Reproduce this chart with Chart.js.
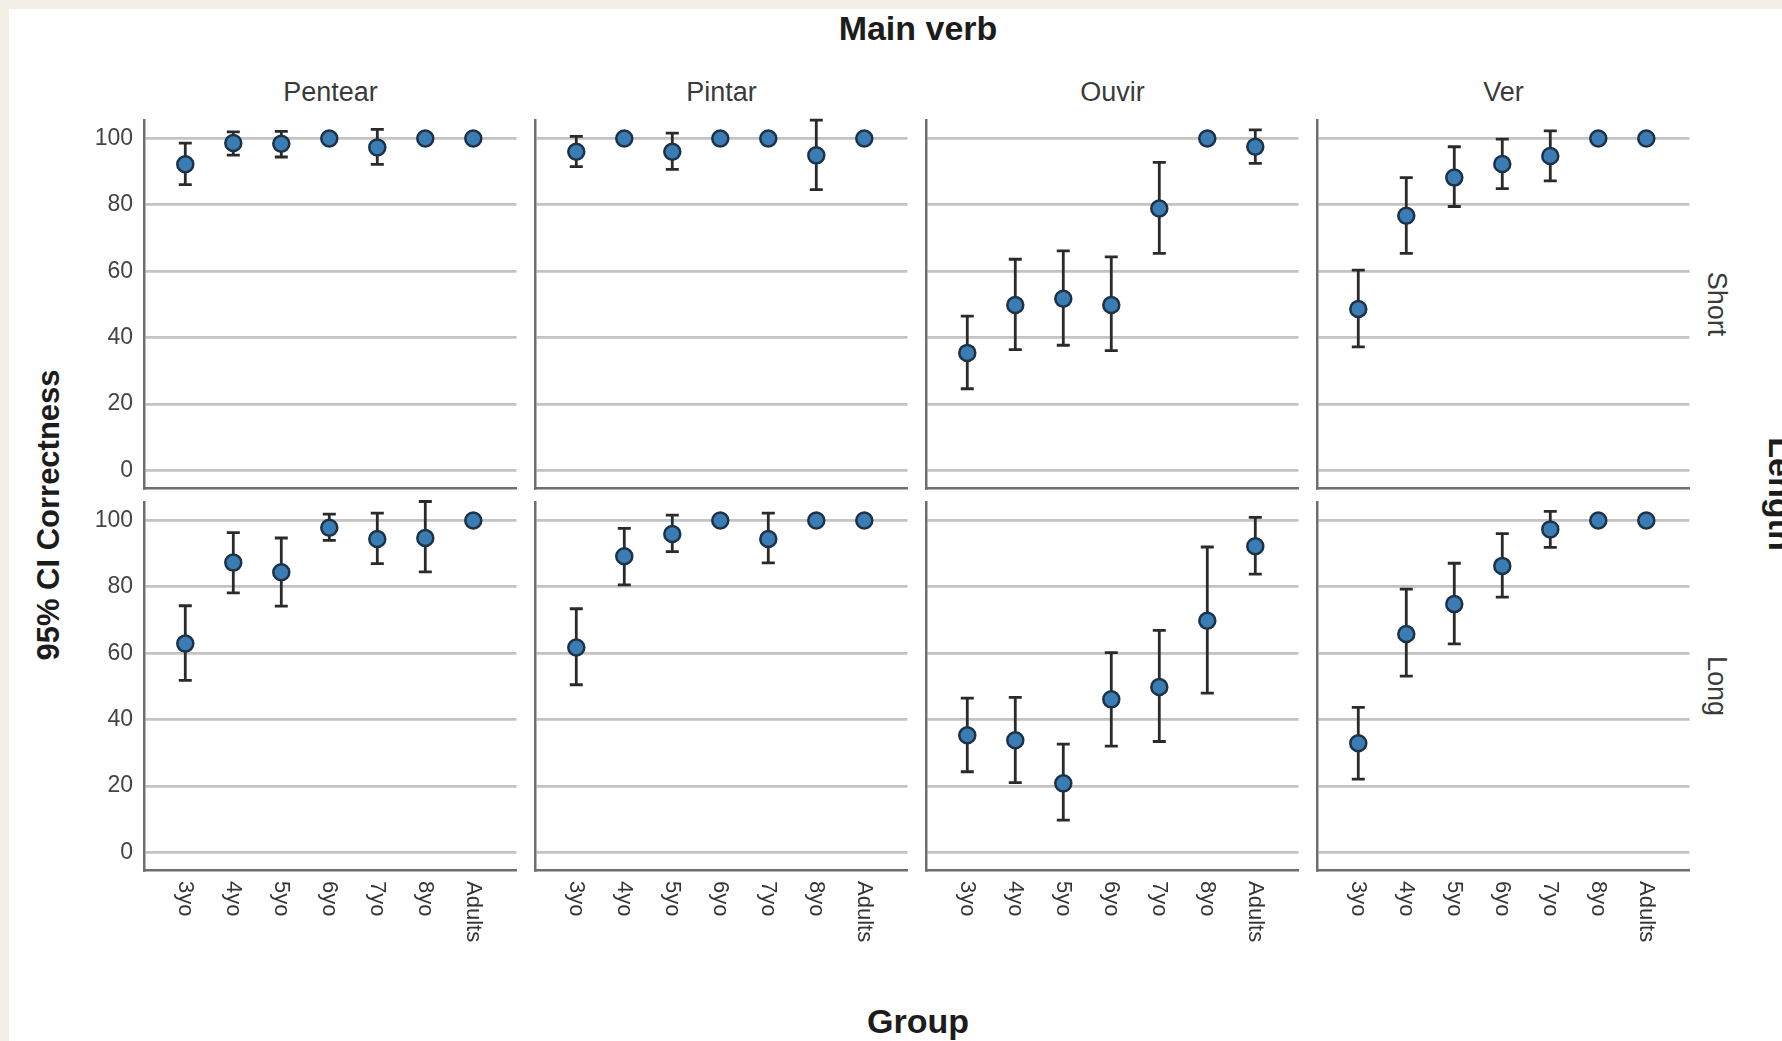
<!DOCTYPE html>
<html>
<head>
<meta charset="utf-8">
<title>Main verb x Length</title>
<script src="https://cdn.jsdelivr.net/npm/chart.js@4.4.1/dist/chart.umd.min.js"></script>
<style>
  body { margin: 0; background: #f3f0e8; }
  #page { position: absolute; left: 0; top: 0; width: 1782px; height: 1041px; overflow: hidden; }
  #sheet { position: absolute; left: 9px; top: 9px; width: 1773px; height: 1032px; background: #fff; overflow: hidden;
           font-family: "Liberation Sans", Arial, sans-serif; }
  canvas { position: absolute; }
  .lbl { position: absolute; white-space: nowrap; line-height: 1; color: #333; transform: translate(-50%, -50%); }
  .title { font-weight: bold; font-size: 34px; color: #1c1c1c; }
  .ytitle { font-weight: bold; font-size: 31px; color: #1c1c1c; }
  .facet { font-size: 27px; color: #3a3a3a; }
</style>
</head>
<body>
<div id="page"><div id="sheet"></div></div>
<script>
// Categories
const groups = ['3yo', '4yo', '5yo', '6yo', '7yo', '8yo', 'Adults'];
const verbs = ['Pentear', 'Pintar', 'Ouvir', 'Ver'];
const lengths = ['Short', 'Long'];
const yTicks = [0, 20, 40, 60, 80, 100];

// Short sentences: mean and 95% CI (null = no interval shown)
const pentearShortMean = [92.2, 98.6, 98.4, 100, 97.3, 100, 100];
const pentearShortLow  = [86.1, 95.0, 94.4, null, 92.2, null, null];
const pentearShortHigh = [98.6, 102.0, 102.1, null, 102.7, null, null];

const pintarShortMean = [96.0, 100, 96.0, 100, 100, 94.9, 100];
const pintarShortLow  = [91.5, null, 90.7, null, null, 84.6, null];
const pintarShortHigh = [100.6, null, 101.6, null, null, 105.5, null];

const ouvirShortMean = [35.4, 49.8, 51.7, 49.8, 78.9, 100, 97.5];
const ouvirShortLow  = [24.6, 36.4, 37.7, 36.1, 65.4, null, 92.5];
const ouvirShortHigh = [46.5, 63.6, 66.1, 64.3, 92.8, null, 102.6];

const verShortMean = [48.6, 76.7, 88.2, 92.3, 94.7, 100, 100];
const verShortLow  = [37.2, 65.4, 79.5, 84.9, 87.2, null, null];
const verShortHigh = [60.3, 88.2, 97.5, 99.8, 102.3, null, null];

// Long sentences
const pentearLongMean = [62.9, 87.3, 84.4, 97.8, 94.4, 94.7, 100];
const pentearLongLow  = [51.8, 78.2, 74.2, 94.0, 87.0, 84.5, null];
const pentearLongHigh = [74.3, 96.3, 94.7, 101.9, 102.2, 105.7, null];

const pintarLongMean = [61.7, 89.2, 95.9, 100, 94.4, 100, 100];
const pintarLongLow  = [50.5, 80.6, 90.6, null, 87.2, null, null];
const pintarLongHigh = [73.4, 97.6, 101.6, null, 102.2, null, null];

const ouvirLongMean = [35.3, 33.8, 20.8, 46.1, 49.8, 69.8, 92.2];
const ouvirLongLow  = [24.3, 21.0, 9.7, 32.0, 33.4, 48.0, 83.8];
const ouvirLongHigh = [46.5, 46.7, 32.6, 60.2, 66.9, 92.0, 100.9];

const verLongMean = [32.9, 65.8, 74.8, 86.3, 97.3, 100, 100];
const verLongLow  = [22.1, 53.1, 62.8, 76.9, 91.9, null, null];
const verLongHigh = [43.7, 79.3, 87.1, 96.0, 102.7, null, null];

const panels = [
    { row: 0, col: 0, mean: pentearShortMean, low: pentearShortLow, high: pentearShortHigh },
    { row: 0, col: 1, mean: pintarShortMean, low: pintarShortLow, high: pintarShortHigh },
    { row: 0, col: 2, mean: ouvirShortMean, low: ouvirShortLow, high: ouvirShortHigh },
    { row: 0, col: 3, mean: verShortMean, low: verShortLow, high: verShortHigh },
    { row: 1, col: 0, mean: pentearLongMean, low: pentearLongLow, high: pentearLongHigh },
    { row: 1, col: 1, mean: pintarLongMean, low: pintarLongLow, high: pintarLongHigh },
    { row: 1, col: 2, mean: ouvirLongMean, low: ouvirLongLow, high: ouvirLongHigh },
    { row: 1, col: 3, mean: verLongMean, low: verLongLow, high: verLongHigh }
];

// Layout (page pixels)
const OX = 9, OY = 9;               // sheet offset
const colLeft = [144, 535, 926, 1317];
const rowTop = [120, 502];
const plotW = 373, plotH = 368;
const axisW = 70, padTop = 10, padRight = 10, bottomH = 80;
const fontFamily = '"Liberation Sans", Arial, sans-serif';

const sheet = document.getElementById('sheet');

function addLabel(text, x, y, cls, rotate) {
    const d = document.createElement('div');
    d.className = 'lbl ' + cls;
    d.textContent = text;
    d.style.left = (x - OX) + 'px';
    d.style.top = (y - OY) + 'px';
    if (rotate) d.style.transform = 'translate(-50%, -50%) rotate(' + rotate + 'deg)';
    sheet.appendChild(d);
}

// Error bars drawn from the CI arrays through the chart scales
function makeErrorBars(low, high) {
    return {
        id: 'errorBars',
        beforeDatasetsDraw(chart) {
            const { ctx, scales: { x, y } } = chart;
            ctx.save();
            ctx.strokeStyle = '#2a2a2a';
            ctx.lineWidth = 2.8;
            low.forEach((lo, i) => {
                const hi = high[i];
                if (lo == null || hi == null) return;
                const px = x.getPixelForValue(i);
                const top = y.getPixelForValue(hi);
                const bot = y.getPixelForValue(lo);
                ctx.beginPath();
                ctx.moveTo(px, top); ctx.lineTo(px, bot);
                ctx.moveTo(px - 6.5, top); ctx.lineTo(px + 6.5, top);
                ctx.moveTo(px - 6.5, bot); ctx.lineTo(px + 6.5, bot);
                ctx.stroke();
            });
            ctx.restore();
        }
    };
}

// Group labels under the bottom row, rotated clockwise
function makeGroupLabels(show) {
    return {
        id: 'groupLabels',
        afterDraw(chart) {
            if (!show) return;
            const { ctx, chartArea, scales: { x } } = chart;
            ctx.save();
            ctx.fillStyle = '#333';
            ctx.font = '22px ' + fontFamily;
            ctx.textAlign = 'left';
            ctx.textBaseline = 'middle';
            groups.forEach((g, i) => {
                ctx.save();
                ctx.translate(x.getPixelForValue(i), chartArea.bottom + 11);
                ctx.rotate(Math.PI / 2);
                ctx.fillText(g, 0, 0);
                ctx.restore();
            });
            ctx.restore();
        }
    };
}

panels.forEach(p => {
    const canvas = document.createElement('canvas');
    const w = axisW + plotW + padRight;
    const h = padTop + plotH + bottomH;
    canvas.width = w;
    canvas.height = h;
    canvas.style.left = (colLeft[p.col] - axisW - OX) + 'px';
    canvas.style.top = (rowTop[p.row] - padTop - OY) + 'px';
    sheet.appendChild(canvas);

    new Chart(canvas, {
        type: 'scatter',
        data: {
            datasets: [{
                data: p.mean.map((v, i) => ({ x: i, y: v })),
                pointRadius: 8,
                pointBorderWidth: 2.5,
                backgroundColor: '#3a7cb4',
                borderColor: '#1d3246',
                clip: false
            }]
        },
        options: {
            responsive: false,
            animation: false,
            layout: { padding: { top: padTop, right: padRight, left: 0, bottom: 0 } },
            plugins: { legend: { display: false }, tooltip: { enabled: false } },
            scales: {
                x: {
                    type: 'linear',
                    min: -0.86,
                    max: 6.9,
                    grid: { display: false },
                    border: { color: '#6e6e6e', width: 2.5 },
                    ticks: { display: false },
                    afterFit: s => { s.height = bottomH; s.paddingLeft = 0; s.paddingRight = 0; }
                },
                y: {
                    min: -5.3,
                    max: 105.4,
                    afterBuildTicks: s => { s.ticks = yTicks.map(v => ({ value: v })); },
                    grid: { color: '#c3c3c3', lineWidth: 2.8, drawTicks: false },
                    border: { color: '#6e6e6e', width: 2.5 },
                    ticks: {
                        display: p.col === 0,
                        padding: 11,
                        color: '#444',
                        font: { family: fontFamily, size: 23 }
                    },
                    afterFit: s => { s.width = axisW; s.paddingTop = 0; s.paddingBottom = 0; }
                }
            }
        },
        plugins: [makeErrorBars(p.low, p.high), makeGroupLabels(p.row === 1)]
    });
});

// Facet and axis titles
addLabel('Main verb', 918, 28, 'title');
verbs.forEach((v, c) => addLabel(v, colLeft[c] + plotW / 2, 92, 'facet'));
lengths.forEach((l, r) => addLabel(l, 1716, rowTop[r] + plotH / 2, 'facet', 90));
addLabel('Length', 1781, 494, 'title', 90);
addLabel('95% CI Correctness', 48, 515, 'ytitle', -90);
addLabel('Group', 918, 1021, 'title');
</script>
</body>
</html>
